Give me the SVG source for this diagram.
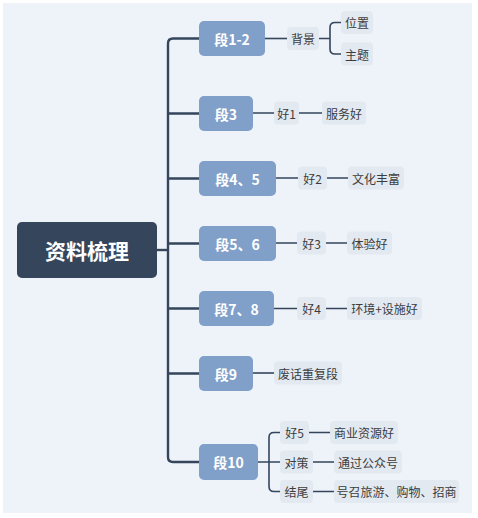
<svg xmlns="http://www.w3.org/2000/svg" width="478" height="518" viewBox="0 0 478 518">
<style>
.root rect{fill:#34455c}
.root text{fill:#fff;font:bold 21px "Noto Sans CJK SC",sans-serif;text-anchor:middle;dominant-baseline:central}
.seg rect{fill:#809fc9}
.seg text{fill:#fff;font:bold 14px "Noto Sans CJK SC",sans-serif;text-anchor:middle;dominant-baseline:central}
.leaf rect{fill:#e3e9f0}
.leaf text{fill:#3c3c3c;font:12px "Noto Sans CJK SC",sans-serif;text-anchor:middle;dominant-baseline:central}
.c path{fill:none;stroke:#34455c;stroke-width:1.6}
.c .trunk{stroke-width:2.4}
</style>
<rect x="0" y="0" width="478" height="518" fill="#fff"/>
<rect x="3" y="3" width="469" height="510" fill="#edf3f9"/>
<g class="c">
<path class="trunk" d="M157 250H168"/>
<path class="trunk" d="M199 38.5H173Q168 38.5 168 43.5V457Q168 462 173 462H199"/>
<path class="trunk" d="M168 113.5H199M168 178.5H199M168 243.5H199M168 308.5H199M168 373.5H199"/>
<path d="M265 38.5H287"/>
<path d="M319 38.5H330M341 22.5H335Q330 22.5 330 27.5V49Q330 54 335 54H341"/>
<path d="M253 113H274M299 113H322"/>
<path d="M276 178H298M327 178H348"/>
<path d="M276 243H297M326 243H347"/>
<path d="M274 308.5H297M326 308.5H347"/>
<path d="M253 373H274"/>
<path d="M258 462H280M280 432.5H274Q269 432.5 269 437.5V486.5Q269 491.5 274 491.5H280"/>
<path d="M309 432.5H330M313 462H334M313 491.5H334"/>
</g>
<g id="root" class="root"><rect x="17" y="222" width="140" height="56" rx="5"/><text x="87" y="250">资料梳理</text></g>
<g id="s12" class="seg"><rect x="199" y="21" width="66" height="35" rx="5"/><text x="232" y="38.5">段1-2</text></g>
<g id="s3" class="seg"><rect x="199" y="96" width="54" height="35" rx="5"/><text x="226" y="113.5">段3</text></g>
<g id="s45" class="seg"><rect x="199" y="161" width="77" height="35" rx="5"/><text x="237.5" y="178.5">段4、5</text></g>
<g id="s56" class="seg"><rect x="199" y="226" width="77" height="35" rx="5"/><text x="237.5" y="243.5">段5、6</text></g>
<g id="s78" class="seg"><rect x="199" y="291" width="75" height="35" rx="5"/><text x="236.5" y="308.5">段7、8</text></g>
<g id="s9" class="seg"><rect x="199" y="356" width="54" height="35" rx="5"/><text x="226" y="373.5">段9</text></g>
<g id="s10" class="seg"><rect x="199" y="444" width="59" height="36" rx="5"/><text x="228.5" y="462">段10</text></g>
<g id="bg" class="leaf"><rect x="287" y="27" width="32" height="23" rx="4"/><text x="303" y="38.5">背景</text></g>
<g id="wz" class="leaf"><rect x="341" y="11" width="32" height="23" rx="4"/><text x="357" y="22.5">位置</text></g>
<g id="zt" class="leaf"><rect x="341" y="42.5" width="32" height="23" rx="4"/><text x="357" y="54">主题</text></g>
<g id="h1" class="leaf"><rect x="274" y="101.5" width="25" height="23" rx="4"/><text x="286.5" y="113">好1</text></g>
<g id="fwh" class="leaf"><rect x="322" y="101.5" width="44" height="23" rx="4"/><text x="344" y="113">服务好</text></g>
<g id="h2" class="leaf"><rect x="298" y="166.5" width="29" height="23" rx="4"/><text x="312.5" y="178">好2</text></g>
<g id="whff" class="leaf"><rect x="348" y="166.5" width="56" height="23" rx="4"/><text x="376" y="178">文化丰富</text></g>
<g id="h3" class="leaf"><rect x="297" y="231.5" width="29" height="23" rx="4"/><text x="311.5" y="243">好3</text></g>
<g id="tyh" class="leaf"><rect x="347" y="231.5" width="45" height="23" rx="4"/><text x="369.5" y="243">体验好</text></g>
<g id="h4" class="leaf"><rect x="297" y="297" width="29" height="23" rx="4"/><text x="311.5" y="308.5">好4</text></g>
<g id="hj" class="leaf"><rect x="347" y="297" width="75" height="23" rx="4"/><text x="384.5" y="308.5">环境+设施好</text></g>
<g id="fh" class="leaf"><rect x="274" y="361.5" width="68" height="23" rx="4"/><text x="308" y="373">废话重复段</text></g>
<g id="h5" class="leaf"><rect x="280" y="421" width="29" height="23" rx="4"/><text x="294.5" y="432.5">好5</text></g>
<g id="sy" class="leaf"><rect x="330" y="421" width="68" height="23" rx="4"/><text x="364" y="432.5">商业资源好</text></g>
<g id="dc" class="leaf"><rect x="280" y="450.5" width="33" height="23" rx="4"/><text x="296.5" y="462">对策</text></g>
<g id="tg" class="leaf"><rect x="334" y="450.5" width="68" height="23" rx="4"/><text x="368" y="462">通过公众号</text></g>
<g id="jw" class="leaf"><rect x="280" y="480" width="33" height="23" rx="4"/><text x="296.5" y="491.5">结尾</text></g>
<g id="hz" class="leaf"><rect x="334" y="480" width="125" height="23" rx="4"/><text x="396.5" y="491.5">号召旅游、购物、招商</text></g>
</svg>
